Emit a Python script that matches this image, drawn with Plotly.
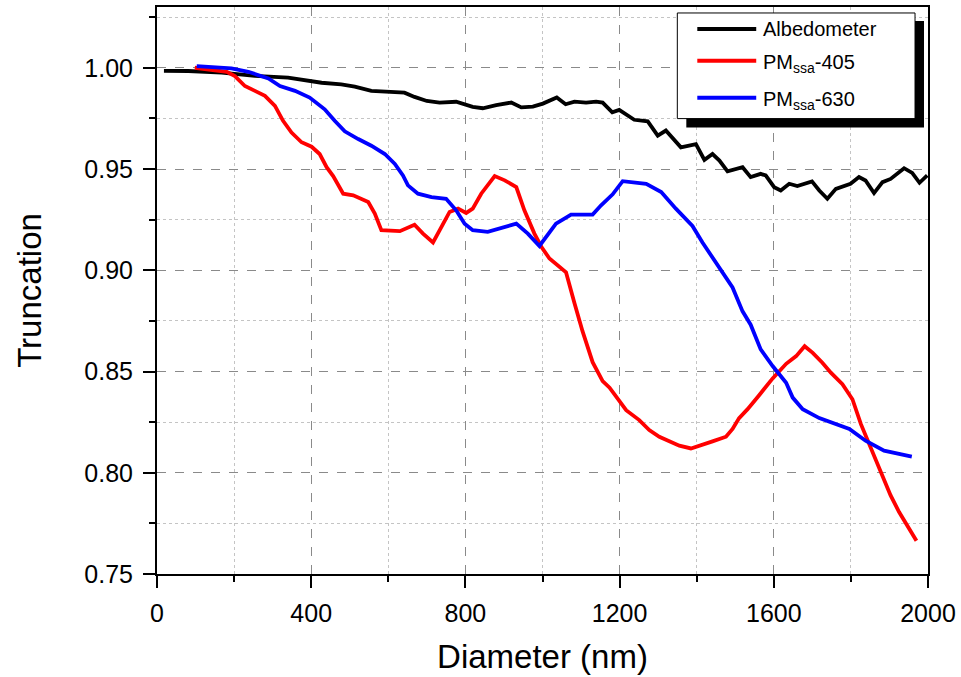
import plotly.graph_objects as go

# Albedometer truncation vs. diameter
albedo_d = [18, 81, 168, 254, 340, 383, 427, 478, 513, 556, 599, 642, 668, 700, 733, 776,
            819, 845, 880, 919, 945, 975, 1001, 1037, 1060, 1083, 1113, 1139, 1156, 1181,
            1199, 1238, 1273, 1299, 1320, 1359, 1398, 1420, 1441, 1459, 1480, 1519, 1540,
            1566, 1579, 1601, 1618, 1640, 1661, 1699, 1718, 1739, 1761, 1799, 1821, 1838,
            1860, 1882, 1903, 1938, 1959, 1978, 1998]
albedo_t = [0.9985, 0.9984, 0.9976, 0.9960, 0.9951, 0.9938, 0.9926, 0.9918, 0.9907, 0.9886,
            0.9882, 0.9877, 0.9856, 0.9836, 0.9828, 0.9832, 0.9807, 0.9800, 0.9815, 0.9828,
            0.9804, 0.9808, 0.9823, 0.9853, 0.9820, 0.9833, 0.9828, 0.9833, 0.9828, 0.9780,
            0.9792, 0.9743, 0.9735, 0.9665, 0.9690, 0.9607, 0.9623, 0.9545, 0.9574, 0.9542,
            0.9488, 0.9509, 0.9460, 0.9476, 0.9468, 0.9410, 0.9394, 0.9427, 0.9416, 0.9439,
            0.9394, 0.9353, 0.9402, 0.9427, 0.9460, 0.9443, 0.9381, 0.9435, 0.9451, 0.9504,
            0.9481, 0.9432, 0.9468]

# PMssa at 405 nm
pm405_d = [98, 150, 181, 202, 228, 254, 280, 306, 327, 349, 375, 401, 422, 440, 457, 483,
           509, 548, 565, 582, 630, 668, 690, 716, 738, 759, 781, 802, 819, 841, 876, 902,
           932, 953, 979, 997, 1018, 1061, 1083, 1104, 1130, 1156, 1174, 1199, 1217, 1251,
           1277, 1303, 1355, 1385, 1415, 1441, 1476, 1493, 1510, 1532, 1562, 1597, 1632,
           1658, 1680, 1701, 1726, 1748, 1778, 1804, 1826, 1856, 1882, 1903, 1925, 1951, 1970]
pm405_t = [1.0000, 0.9987, 0.9980, 0.9959, 0.9910, 0.9886, 0.9861, 0.9812, 0.9738, 0.9680,
           0.9632, 0.9610, 0.9574, 0.9509, 0.9465, 0.9378, 0.9370, 0.9337, 0.9280, 0.9198,
           0.9193, 0.9225, 0.9181, 0.9137, 0.9214, 0.9288, 0.9304, 0.9283, 0.9304, 0.9378,
           0.9465, 0.9444, 0.9411, 0.9296, 0.9181, 0.9116, 0.9058, 0.8990, 0.8837, 0.8698,
           0.8546, 0.8453, 0.8420, 0.8355, 0.8309, 0.8260, 0.8211, 0.8178, 0.8134, 0.8120,
           0.8137, 0.8155, 0.8178, 0.8216, 0.8270, 0.8314, 0.8383, 0.8466, 0.8538, 0.8576,
           0.8625, 0.8592, 0.8543, 0.8494, 0.8437, 0.8363, 0.8240, 0.8101, 0.7986, 0.7888,
           0.7806, 0.7724, 0.7664]

# PMssa at 630 nm
pm630_d = [103, 193, 237, 289, 319, 358, 396, 435, 461, 487, 522, 556, 591, 617, 638, 651,
           677, 712, 750, 776, 798, 819, 858, 893, 932, 962, 992, 1035, 1074, 1130, 1152,
           1182, 1208, 1269, 1308, 1346, 1389, 1415, 1441, 1467, 1493, 1519, 1540, 1566,
           1597, 1632, 1649, 1675, 1718, 1796, 1838, 1886, 1958]
pm630_t = [1.0008, 0.9997, 0.9980, 0.9947, 0.9910, 0.9886, 0.9853, 0.9795, 0.9738, 0.9686,
           0.9648, 0.9615, 0.9574, 0.9525, 0.9468, 0.9419, 0.9378, 0.9361, 0.9353, 0.9296,
           0.9230, 0.9198, 0.9190, 0.9209, 0.9230, 0.9181, 0.9120, 0.9230, 0.9275, 0.9275,
           0.9321, 0.9375, 0.9440, 0.9427, 0.9386, 0.9304, 0.9219, 0.9137, 0.9062, 0.8988,
           0.8915, 0.8797, 0.8731, 0.8609, 0.8527, 0.8444, 0.8371, 0.8314, 0.8270, 0.8216,
           0.8158, 0.8109, 0.8080]

series_names = ["Albedometer", "PM<sub>ssa</sub>-405", "PM<sub>ssa</sub>-630"]
series_colors = ["#000000", "#ff0000", "#0000ff"]
series_x = [albedo_d, pm405_d, pm630_d]
series_y = [albedo_t, pm405_t, pm630_t]

x_ticks = [0, 400, 800, 1200, 1600, 2000]
y_ticks = [0.75, 0.80, 0.85, 0.90, 0.95, 1.00]

FONT = "Liberation Sans, Arial, sans-serif"

fig = go.Figure()
for name, color, xs, ys in zip(series_names, series_colors, series_x, series_y):
    fig.add_trace(go.Scatter(x=xs, y=ys, mode="lines", name=name,
                             line=dict(color=color, width=3.8), showlegend=False))

axis_common = dict(
    showline=True, linecolor="black", linewidth=2, mirror=True,
    ticks="outside", ticklen=12, tickwidth=2, tickcolor="black",
    showgrid=True, gridcolor="#8a8a8a", griddash="dash", gridwidth=1,
    zeroline=False, tickfont=dict(family=FONT, size=25, color="black"),
)

fig.update_xaxes(
    range=[0, 2000], tickvals=x_ticks, ticktext=[str(v) for v in x_ticks],
    ticklabelstandoff=4,
    title=dict(text="Diameter (nm)", font=dict(family=FONT, size=33, color="black"), standoff=19),
    minor=dict(tickvals=[200, 600, 1000, 1400, 1800], ticklen=6, tickwidth=2, tickcolor="black",
               ticks="outside", showgrid=True, gridcolor="#c4c4c4", griddash="dot", gridwidth=1),
    **axis_common,
)
fig.update_yaxes(
    range=[0.75, 1.03], tickvals=y_ticks, ticktext=[f"{v:.2f}" for v in y_ticks],
    ticklabelstandoff=5,
    title=dict(text="Truncation", font=dict(family=FONT, size=33, color="black"), standoff=33),
    minor=dict(tickvals=[0.775, 0.825, 0.875, 0.925, 0.975, 1.025], ticklen=6, tickwidth=2,
               tickcolor="black", ticks="outside", showgrid=True, gridcolor="#c4c4c4",
               griddash="dot", gridwidth=1),
    **axis_common,
)

# Legend box with drop shadow, drawn in paper coordinates
L, R, T, B = 157, 929, 5, 574
W, H = R - L, B - T


def px(x):
    return (x - L) / W


def py(y):
    return (B - y) / H


shapes = [
    dict(type="rect", xref="paper", yref="paper", layer="above",
         x0=px(687), x1=px(925), y0=py(126), y1=py(19),
         fillcolor="black", line=dict(width=0)),
    dict(type="rect", xref="paper", yref="paper", layer="above",
         x0=px(678), x1=px(916), y0=py(117), y1=py(11),
         fillcolor="white", line=dict(color="black", width=1)),
]
annotations = []
row_y = [27, 59, 96]
for name, color, ry in zip(series_names, series_colors, row_y):
    shapes.append(dict(type="line", xref="paper", yref="paper", layer="above",
                       x0=px(698), x1=px(757), y0=py(ry), y1=py(ry),
                       line=dict(color=color, width=4)))
    annotations.append(dict(xref="paper", yref="paper", x=px(762), y=py(ry + (0 if ry == 27 else 3)),
                            xanchor="left", yanchor="middle", text=name, showarrow=False,
                            font=dict(family=FONT, size=20, color="black")))

fig.update_layout(
    width=961, height=677,
    margin=dict(l=L, r=961 - R, t=T, b=677 - B),
    paper_bgcolor="white", plot_bgcolor="white",
    shapes=shapes, annotations=annotations,
    showlegend=False,
)

fig.write_html("out.html")
